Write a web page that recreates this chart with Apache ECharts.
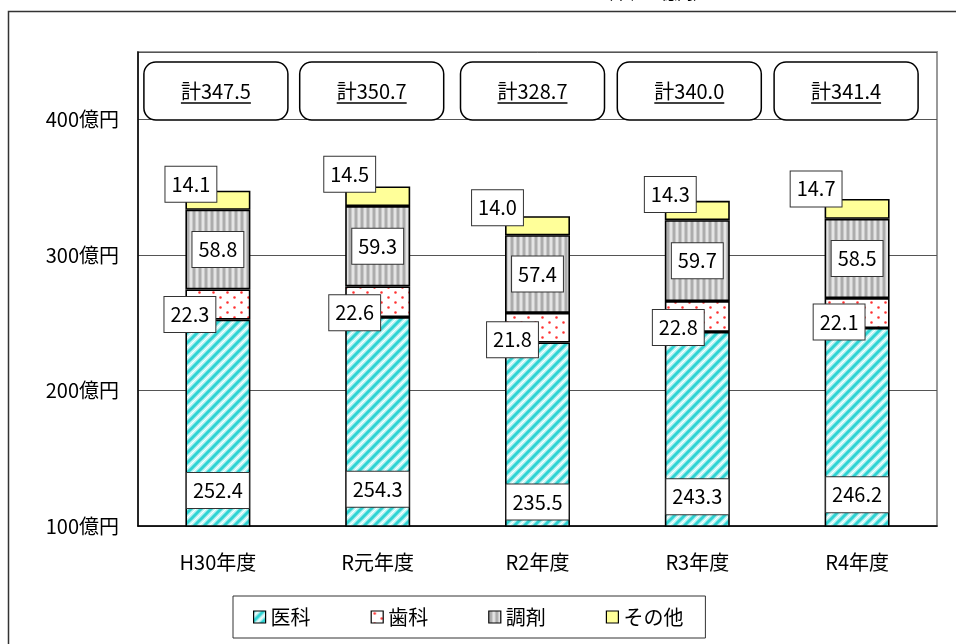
<!DOCTYPE html>
<html>
<head>
<meta charset="utf-8">
<script src="https://cdn.jsdelivr.net/npm/echarts@6/dist/echarts.min.js"></script>
<style>
  html, body { margin: 0; padding: 0; background: #fff; }
  #main { width: 956px; height: 644px; }
</style>
</head>
<body>
<div id="main"></div>
<script>
// data (億円)
const years = ['H30年度', 'R元年度', 'R2年度', 'R3年度', 'R4年度'];
const seriesNames = ['医科', '歯科', '調剤', 'その他'];
const medical = [252.4, 254.3, 235.5, 243.3, 246.2];
const dental = [22.3, 22.6, 21.8, 22.8, 22.1];
const pharmacy = [58.8, 59.3, 57.4, 59.7, 58.5];
const other = [14.1, 14.5, 14.0, 14.3, 14.7];
const totals = [347.5, 350.7, 328.7, 340.0, 341.4];
const yTicks = [100, 200, 300, 400];

const FONT = '"Noto Sans CJK JP", "Noto Sans", sans-serif';

// label nudges, the way they were dragged in the original
const dentalLabelShift = [[-28, 10], [-23, 11], [-25, 12], [-19, 11], [-18, 9]];
const otherLabelShift = [[-27, -16], [-28, -22], [-40, -18], [-27, -16], [-41, -20]];
const totalBoxShift = [-2, -6, -5, -8, -11];

function makeTile(w, h, draw) {
	const c = document.createElement('canvas');
	c.width = w;
	c.height = h;
	draw(c.getContext('2d'));
	return { image: c, repeat: 'repeat' };
}

// diagonal cyan stripes
const medicalFill = makeTile(10, 10, function (ctx) {
	ctx.fillStyle = '#ffffff';
	ctx.fillRect(0, 0, 10, 10);
	const lines = [[-10, 10, 10, -10], [0, 10, 10, 0], [0, 20, 20, 0]];
	[['#b8f2f2', 6], ['#2fd3d3', 3]].forEach(function (s) {
		ctx.strokeStyle = s[0];
		ctx.lineWidth = s[1];
		lines.forEach(function (l) {
			ctx.beginPath();
			ctx.moveTo(l[0], l[1]);
			ctx.lineTo(l[2], l[3]);
			ctx.stroke();
		});
	});
});

// red dots on white
const dentalFill = makeTile(14, 10, function (ctx) {
	ctx.fillStyle = '#ffffff';
	ctx.fillRect(0, 0, 14, 10);
	ctx.fillStyle = '#ff3030';
	ctx.beginPath();
	ctx.arc(3.5, 2.5, 1.3, 0, Math.PI * 2);
	ctx.arc(10.5, 7.5, 1.3, 0, Math.PI * 2);
	ctx.fill();
});

// vertical gray stripes
const pharmacyFill = makeTile(6, 4, function (ctx) {
	ctx.fillStyle = '#e4e4e4';
	ctx.fillRect(0, 0, 6, 4);
	ctx.fillStyle = '#c8c8c8';
	ctx.fillRect(0, 0, 1, 4);
	ctx.fillRect(3, 0, 1, 4);
	ctx.fillStyle = '#acacac';
	ctx.fillRect(1, 0, 2, 4);
});

const otherFill = '#ffff99';

const measureCtx = document.createElement('canvas').getContext('2d');
measureCtx.font = '20px ' + FONT;

const boxLabel = {
	show: true,
	color: '#000',
	opacity: 1,
	fontSize: 20,
	fontFamily: FONT,
	lineHeight: 24,
	backgroundColor: '#fff',
	borderColor: '#333',
	borderWidth: 1,
	padding: [6, 6, 5, 6],
	formatter: function (p) { return Number(p.value).toFixed(1); }
};

function barSeries(name, values, fill, label, shifts) {
	return {
		type: 'bar',
		name: name,
		stack: 'total',
		barWidth: 65,
		data: values.map(function (v, i) {
			return shifts ? { value: v, label: { offset: shifts[i] } } : v;
		}),
		itemStyle: {
			color: fill,
			borderColor: '#000',
			borderWidth: 1.6
		},
		label: label,
		emphasis: { disabled: true }
	};
}

const myChart = echarts.init(document.getElementById('main'));

const option = {
	animation: false,
	textStyle: { fontFamily: FONT },
	grid: {
		left: 138,
		right: 19,
		top: 52,
		bottom: 118,
		show: true,
		borderColor: '#999',
		borderWidth: 2,
		backgroundColor: 'transparent'
	},
	legend: {
		data: seriesNames,
		icon: 'rect',
		left: 233,
		top: 596,
		padding: [10, 22, 10, 20],
		itemGap: 60,
		itemWidth: 12,
		itemHeight: 12,
		borderColor: '#333',
		borderWidth: 1,
		itemStyle: { borderWidth: 1.2 },
		textStyle: { color: '#000', fontSize: 20, fontFamily: FONT, lineHeight: 22 }
	},
	graphic: [
		{
			type: 'rect',
			z: -10,
			shape: { x: 8.5, y: 11.5, width: 1000, height: 700 },
			style: { fill: 'none', stroke: '#333', lineWidth: 1.5 }
		},
		{
			type: 'text',
			left: 597,
			top: -15,
			style: { text: '（単位：億円）', fontSize: 16, fontFamily: FONT, fill: '#000' }
		}
	],
	xAxis: {
		type: 'category',
		data: years,
		axisLine: { lineStyle: { color: '#000', width: 1.5 } },
		axisTick: { show: false },
		axisLabel: { color: '#000', fontSize: 20, fontFamily: FONT, margin: 26 }
	},
	yAxis: {
		type: 'value',
		min: 100,
		max: 450,
		interval: 100,
		axisLine: { show: true, lineStyle: { color: '#000', width: 1.5 } },
		axisTick: { show: false },
		axisLabel: {
			color: '#000',
			fontSize: 20,
			fontFamily: FONT,
			margin: 19,
			formatter: function (v) { return yTicks.indexOf(v) >= 0 ? v + '億円' : ''; }
		},
		splitLine: { show: true, lineStyle: { color: '#555', width: 1 } }
	},
	series: [
		barSeries('医科', medical, medicalFill, { show: false }),
		barSeries('歯科', dental, dentalFill, Object.assign({}, boxLabel, { position: 'inside' }), dentalLabelShift),
		barSeries('調剤', pharmacy, pharmacyFill, Object.assign({}, boxLabel, { position: 'inside' })),
		barSeries('その他', other, otherFill, Object.assign({}, boxLabel, { position: 'inside' }), otherLabelShift),
		{
			// 医科 labels sit at the middle of the whole bar (from 0)
			type: 'scatter',
			name: 'medicalLabel',
			symbol: 'rect',
			symbolSize: 1,
			silent: true,
			z: 5,
			itemStyle: { color: '#fff', opacity: 1 },
			emphasis: { disabled: true },
			data: medical.map(function (v, i) { return [i, v / 2, v]; }),
			label: Object.assign({}, boxLabel, {
				position: 'inside',
				formatter: function (p) { return p.value[2].toFixed(1); }
			})
		},
		{
			type: 'custom',
			name: 'totals',
			silent: true,
			z: 6,
			data: totals.map(function (t, i) { return [i, t]; }),
			renderItem: function (params, api) {
				const i = params.dataIndex;
				const cx = api.coord([api.value(0), api.value(1)])[0] + totalBoxShift[i];
				const top = params.coordSys.y + 10;
				const text = '計' + api.value(1).toFixed(1);
				const w = measureCtx.measureText(text).width;
				return {
					type: 'group',
					children: [
						{
							type: 'rect',
							shape: { x: cx - 72, y: top, width: 144, height: 58, r: 12 },
							style: { fill: '#fff', stroke: '#000', lineWidth: 1.5 }
						},
						{
							type: 'text',
							style: {
								text: text,
								x: cx,
								y: top + 29,
								align: 'center',
								verticalAlign: 'middle',
								fontSize: 20,
								fontFamily: FONT,
								fill: '#000'
							}
						},
						{
							type: 'line',
							shape: { x1: cx - w / 2, y1: top + 41, x2: cx + w / 2, y2: top + 41 },
							style: { stroke: '#000', lineWidth: 1.5 }
						}
					]
				};
			}
		}
	]
};

myChart.setOption(option);
</script>
</body>
</html>
